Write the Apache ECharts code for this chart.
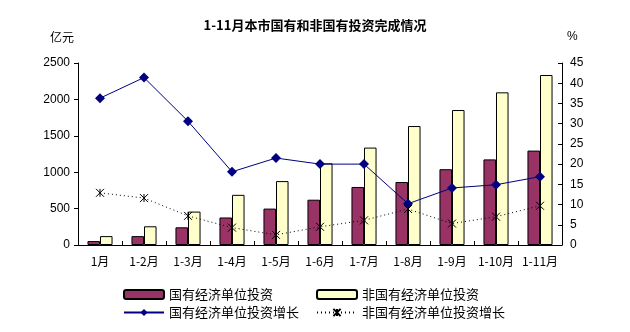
<!DOCTYPE html>
<html><head><meta charset="utf-8">
<script src="https://cdn.jsdelivr.net/npm/echarts@6/dist/echarts.min.js"></script>
<style>html,body{margin:0;padding:0;background:#fff}#c{width:630px;height:332px}</style>
</head><body><div id="c"></div>
<script>
const categories = ['1月','1-2月','1-3月','1-4月','1-5月','1-6月','1-7月','1-8月','1-9月','1-10月','1-11月'];
const stateInvest = [54,122,243,378,500,622,797,865,1041,1176,1297];
const nonStateInvest = [122,257,459,689,878,1122,1338,1634,1854,2097,2335];
const stateGrowth = [36.3,41.4,30.6,18.1,21.5,20.0,20.0,10.2,14.1,14.9,16.9];
const nonStateGrowth = [12.9,11.6,7.2,4.3,2.5,4.5,6.1,8.9,5.3,7.0,9.7];
const leftTicks = {min:0,max:2500,interval:500};
const rightTicks = {min:0,max:45,interval:5};
const names = ['国有经济单位投资','非国有经济单位投资','国有经济单位投资增长','非国有经济单位投资增长'];

const chart = echarts.init(document.getElementById('c'));
const cjk = '"Noto Sans CJK SC", sans-serif';
const num = '"Liberation Sans", Arial, sans-serif';
const star = 'path://M0,0L10,10M10,0L0,10M5,0L5,10';
function lg(name, left, top){
  return {data:[name], left:left, top:top, orient:'horizontal', itemWidth:40, itemHeight:9, itemGap:5,
    textStyle:{fontFamily:cjk, fontSize:13, color:'#000'}, padding:0, selectedMode:false};
}
chart.setOption({
  animation:false,
  backgroundColor:'#fff',
  title:{text:'1-11月本市国有和非国有投资完成情况', left:'center', top:14,
    textStyle:{fontFamily:cjk, fontSize:13, fontWeight:'bold', color:'#000'}},
  graphic:[
    {type:'text', left:50, top:31, style:{text:'亿元', font:'12px "Noto Sans CJK SC"', fill:'#000'}},
    {type:'text', left:567, top:31, style:{text:'%', font:'12px "Liberation Sans"', fill:'#000'}}
  ],
  legend:[lg(names[0],123,288), lg(names[1],316,288), lg(names[2],123,306), lg(names[3],316,306)],
  grid:{left:78, right:68, top:63, bottom:87, containLabel:false},
  xAxis:{type:'category', data:categories,
    axisLine:{lineStyle:{color:'#000', width:1}},
    axisTick:{show:true, inside:true, length:4, lineStyle:{color:'#000'}},
    axisLabel:{fontFamily:cjk, fontSize:12, color:'#000', margin:10, interval:0}},
  yAxis:[
    {type:'value', min:leftTicks.min, max:leftTicks.max, interval:leftTicks.interval,
     axisLine:{show:true, lineStyle:{color:'#000'}}, axisTick:{show:true, length:4, lineStyle:{color:'#000'}},
     splitLine:{show:false}, axisLabel:{fontFamily:num, fontSize:12, color:'#000', margin:8, formatter:v=>String(v)}},
    {type:'value', min:rightTicks.min, max:rightTicks.max, interval:rightTicks.interval, position:'right',
     axisLine:{show:true, lineStyle:{color:'#000'}}, axisTick:{show:true, inside:true, length:4, lineStyle:{color:'#000'}},
     splitLine:{show:false}, axisLabel:{fontFamily:num, fontSize:12, color:'#000', margin:8, formatter:v=>String(v)}}
  ],
  series:[
    {name:names[0], type:'bar', data:stateInvest, barGap:'0%', barCategoryGap:'43%',
     itemStyle:{color:'#993366', borderColor:'#000', borderWidth:1}},
    {name:names[1], type:'bar', data:nonStateInvest, barGap:'0%', barCategoryGap:'43%',
     itemStyle:{color:'#FFFFCC', borderColor:'#000', borderWidth:1}},
    {name:names[2], type:'line', yAxisIndex:1, data:stateGrowth, symbol:'diamond', symbolSize:10,
     lineStyle:{color:'#000080', width:1}, itemStyle:{color:'#000080'}},
    {name:names[3], type:'line', yAxisIndex:1, data:nonStateGrowth, symbol:star, symbolSize:8,
     lineStyle:{color:'#000', width:1, type:[1,3]}, itemStyle:{color:'#000', borderColor:'#000', borderWidth:1}}
  ]
});
</script></body></html>
